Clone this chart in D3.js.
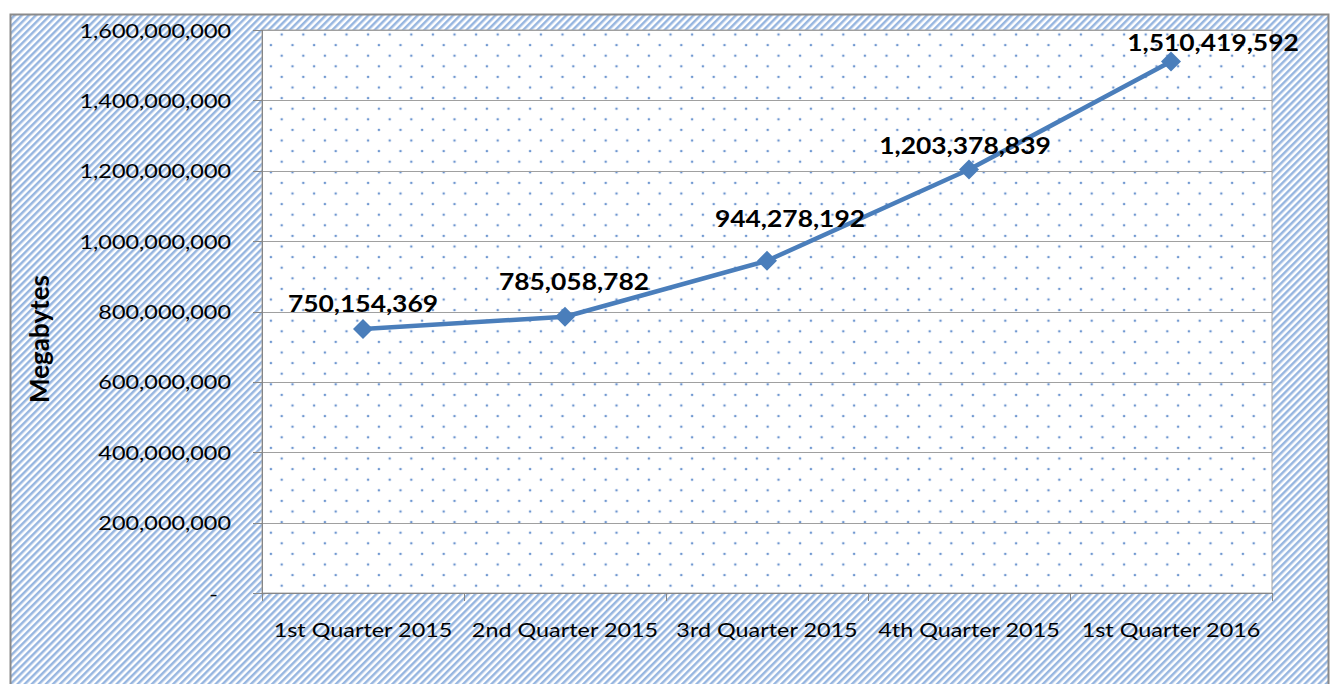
<!DOCTYPE html>
<html lang="en">
<head>
    <meta charset="UTF-8">
    <title>Megabytes by Quarter</title>
    <script src="https://d3js.org/d3.v7.min.js"></script>
    <style>
        body {
            margin: 0;
            padding: 0;
            background: #fff;
            overflow: hidden;
        }
        svg text {
            font-family: Lato, "Open Sans", sans-serif;
            fill: #000;
        }
    </style>
</head>
<body>
    <div id="chart"></div>

    <script>
        // Datos
        const categories = ["1st Quarter 2015", "2nd Quarter 2015", "3rd Quarter 2015", "4th Quarter 2015", "1st Quarter 2016"];
        const megabytes = [750154369, 785058782, 944278192, 1203378839, 1510419592];
        const yTicks = [0, 200000000, 400000000, 600000000, 800000000, 1000000000, 1200000000, 1400000000, 1600000000];
        const yTitle = "Megabytes";

        // Dimensiones
        const W = 1335, H = 684;
        const plot = {left: 262, right: 1272, top: 30, bottom: 593};
        const stretch = 1.2; // el texto del original está algo ensanchado
        const blue = "#4a7ebb";

        // desplazamiento manual de las etiquetas de datos
        const labelShift = [[0, -17], [9, -27], [23, -34], [-4, -16], [42, -11]];

        const svg = d3.select("#chart")
            .append("svg")
            .attr("width", W)
            .attr("height", H);

        const defs = svg.append("defs");

        // rayado diagonal del fondo
        const hatch = defs.append("pattern")
            .attr("id", "hatch")
            .attr("patternUnits", "userSpaceOnUse")
            .attr("width", 5)
            .attr("height", 5)
            .attr("patternTransform", "rotate(45)");
        hatch.append("rect").attr("width", 5).attr("height", 5).attr("fill", "#fff");
        hatch.append("rect").attr("width", 2.5).attr("height", 5).attr("fill", "#97b6e0");

        // puntos del área de trazado
        const dots = defs.append("pattern")
            .attr("id", "dots")
            .attr("patternUnits", "userSpaceOnUse")
            .attr("x", 281.7)
            .attr("y", 543.3)
            .attr("width", 21.6)
            .attr("height", 21.2);
        dots.append("rect").attr("width", 21.6).attr("height", 21.2).attr("fill", "#fff");
        [[0, 0], [21.6, 0], [0, 21.2], [21.6, 21.2], [10.8, 10.6]].forEach(p => {
            dots.append("circle").attr("cx", p[0]).attr("cy", p[1]).attr("r", 1.3).attr("fill", "#6f97d0");
        });

        // área del gráfico
        svg.append("rect")
            .attr("x", 10.5)
            .attr("y", 14.5)
            .attr("width", 1318)
            .attr("height", 700)
            .attr("fill", "url(#hatch)")
            .attr("stroke", "#8a8a8a")
            .attr("stroke-width", 2);

        // área de trazado
        svg.append("rect")
            .attr("x", plot.left)
            .attr("y", plot.top)
            .attr("width", plot.right - plot.left)
            .attr("height", plot.bottom - plot.top)
            .attr("fill", "url(#dots)")
            .attr("stroke", "#a6a6a6")
            .attr("stroke-width", 1);

        // Escalas
        const xScale = d3.scaleBand()
            .domain(categories)
            .range([plot.left, plot.right]);
        const xMid = d => xScale(d) + xScale.bandwidth() / 2;

        const yScale = d3.scaleLinear()
            .domain([0, 1600000000])
            .range([plot.bottom, plot.top]);

        // Grid horizontal
        svg.append("g")
            .attr("transform", `translate(${plot.left},0)`)
            .call(d3.axisLeft(yScale)
                .tickValues(yTicks)
                .tickSize(-(plot.right - plot.left))
                .tickFormat(""))
            .call(g => g.select(".domain").remove())
            .call(g => g.selectAll("line")
                .attr("stroke", "#a0a0a0")
                .attr("shape-rendering", "crispEdges"));

        // Eje Y
        const fmt = d3.format(",");
        const yAxisG = svg.append("g")
            .attr("transform", `translate(${plot.left},0)`)
            .call(d3.axisLeft(yScale)
                .tickValues(yTicks)
                .tickSize(9)
                .tickFormat(d => d === 0 ? "-" : fmt(d)));
        yAxisG.select(".domain")
            .attr("stroke", "#868686")
            .attr("shape-rendering", "crispEdges");
        yAxisG.selectAll(".tick line")
            .attr("stroke", "#868686")
            .attr("shape-rendering", "crispEdges");
        yAxisG.selectAll(".tick text")
            .attr("font-size", 19.5)
            .attr("font-family", "Lato, 'Open Sans', sans-serif")
            .attr("fill", "#000")
            .attr("x", d => (d === 0 ? -44 : -31) / stretch)
            .attr("dy", "0.36em")
            .attr("transform", `scale(${stretch},1)`);

        // Eje X
        const xAxisG = svg.append("g")
            .attr("transform", `translate(0,${plot.bottom})`)
            .call(d3.axisBottom(xScale).tickSize(0).tickSizeOuter(0));
        xAxisG.select(".domain")
            .attr("stroke", "#868686")
            .attr("shape-rendering", "crispEdges");
        xAxisG.selectAll(".tick text")
            .attr("font-size", 19.5)
            .attr("font-family", "Lato, 'Open Sans', sans-serif")
            .attr("fill", "#000")
            .attr("y", 44)
            .attr("dy", 0)
            .attr("transform", `scale(${stretch},1)`);

        // marcas entre categorías
        const bounds = categories.map(c => xScale(c)).concat([xScale.range()[1]]);
        svg.append("g")
            .selectAll("line")
            .data(bounds)
            .join("line")
            .attr("x1", d => Math.round(d) + 0.5)
            .attr("x2", d => Math.round(d) + 0.5)
            .attr("y1", plot.bottom)
            .attr("y2", plot.bottom + 8)
            .attr("stroke", "#868686");

        // Título del eje Y
        svg.append("text")
            .attr("transform", "translate(49,339) rotate(-90)")
            .attr("text-anchor", "middle")
            .attr("font-size", 26)
            .attr("font-weight", "bold")
            .text(yTitle);

        // Línea
        const points = categories.map((c, i) => ({cat: c, value: megabytes[i], i: i}));
        const line = d3.line()
            .x(d => xMid(d.cat))
            .y(d => yScale(d.value));

        svg.append("path")
            .datum(points)
            .attr("fill", "none")
            .attr("stroke", blue)
            .attr("stroke-width", 4.5)
            .attr("stroke-linejoin", "round")
            .attr("d", line);

        // Marcadores
        svg.append("g")
            .selectAll("path")
            .data(points)
            .join("path")
            .attr("d", d3.symbol(d3.symbolSquare, 200))
            .attr("fill", blue)
            .attr("transform", d => `translate(${xMid(d.cat)},${yScale(d.value)}) rotate(45)`);

        // Etiquetas de datos
        svg.append("g")
            .selectAll("g")
            .data(points)
            .join("g")
            .attr("transform", d => `translate(${xMid(d.cat) + labelShift[d.i][0]},${yScale(d.value) + labelShift[d.i][1]}) scale(${stretch},1)`)
            .append("text")
            .attr("text-anchor", "middle")
            .attr("font-size", 22)
            .attr("font-weight", "bold")
            .text(d => fmt(d.value));
    </script>
</body>
</html>
